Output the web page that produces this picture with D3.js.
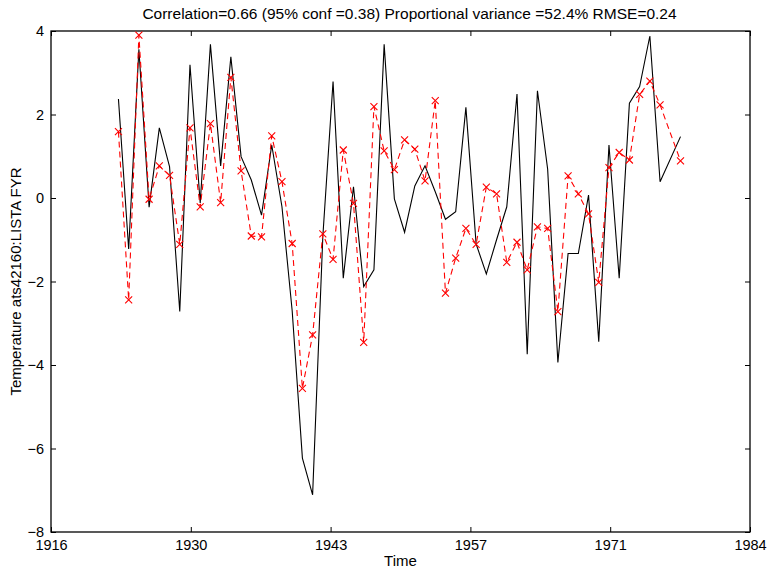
<!DOCTYPE html>
<html><head><meta charset="utf-8">
<script src="https://cdn.jsdelivr.net/npm/d3@7/dist/d3.min.js"></script>
<style>body{margin:0;background:#fff}svg{display:block}text{font-family:"Liberation Sans",Arial,sans-serif}</style>
</head><body><svg id="c" width="767" height="569"></svg>
<script>
const years = [1922,1923,1924,1925,1926,1927,1928,1929,1930,1931,1932,1933,1934,1935,1936,1937,1938,1939,1940,1941,1942,1943,1944,1945,1946,1947,1948,1949,1950,1951,1952,1953,1954,1955,1956,1957,1958,1959,1960,1961,1962,1963,1964,1965,1966,1967,1968,1969,1970,1971,1972,1973,1974,1975,1977];
const observed = [2.37,-1.22,3.56,-0.22,1.68,0.75,-2.72,3.19,-0.12,3.68,0.77,3.38,0.99,0.43,-0.41,1.27,-0.21,-2.7,-6.23,-7.11,-0.92,2.79,-1.92,0.27,-2.12,-1.72,3.68,-0.02,-0.82,0.29,0.77,0.15,-0.51,-0.33,2.17,-1.1,-1.82,-1.0,-0.21,2.49,-3.74,2.57,0.69,-3.94,-1.33,-1.33,0.07,-3.44,1.27,-1.92,2.27,2.67,3.88,0.39,1.47];
const reconstructed = [1.59,-2.44,3.90,-0.03,0.77,0.54,-1.11,1.68,-0.21,1.78,-0.11,2.89,0.65,-0.91,-0.93,1.49,0.39,-1.09,-4.56,-3.28,-0.86,-1.47,1.15,-0.13,-3.46,2.19,1.13,0.68,1.39,1.17,0.41,2.33,-2.28,-1.44,-0.73,-1.11,0.26,0.10,-1.54,-1.06,-1.72,-0.69,-0.73,-2.72,0.53,0.10,-0.38,-2.02,0.73,1.09,0.91,2.48,2.80,2.23,0.89];
const xTickLabels = ["1916","1930","1943","1957","1971","1984"];
const yTicks = [-8,-6,-4,-2,0,2,4];
const titleText = "Correlation=0.66 (95% conf =0.38) Proportional variance =52.4% RMSE=0.24";
const yLabelText = "Temperature ats42160:LISTA FYR";
const xLabelText = "Time";

const svg = d3.select("#c");
const L=51, R=750, T=31, B=532;
const xDom=[1915.9,1984.3];
const x = d3.scaleLinear().domain(xDom).range([L,R]);
const y = d3.scaleLinear().domain([-8,4]).range([B,T]);
const xTickVals = xTickLabels.map((_,i)=>xDom[0]+i*(xDom[1]-xDom[0])/(xTickLabels.length-1));
const fmtX = (v)=>xTickLabels[xTickVals.indexOf(v)];
const fmtY = (v)=> v<0 ? "\u2212"+Math.abs(v) : String(v);

const data = years.map((yr,i)=>({t:yr+0.5,o:observed[i],r:reconstructed[i]}));

const g = svg.append("g");
const ax = (sel)=>{sel.selectAll("path").remove();sel.selectAll("line").attr("stroke","#000");sel.selectAll("text").attr("font-size","14.5px").attr("fill","#000");};
g.append("g").attr("transform",`translate(0,${B})`).call(d3.axisBottom(x).tickValues(xTickVals).tickFormat(fmtX).tickSizeInner(-5).tickSizeOuter(0).tickPadding(8)).call(ax);
g.append("g").attr("transform",`translate(0,${T})`).call(d3.axisTop(x).tickValues(xTickVals).tickFormat("").tickSizeInner(-5).tickSizeOuter(0)).call(ax);
g.append("g").attr("transform",`translate(${L},0)`).call(d3.axisLeft(y).tickValues(yTicks).tickFormat(fmtY).tickSizeInner(-5).tickSizeOuter(0).tickPadding(7)).call(ax);
g.append("g").attr("transform",`translate(${R},0)`).call(d3.axisRight(y).tickValues(yTicks).tickFormat("").tickSizeInner(-5).tickSizeOuter(0)).call(ax);
g.append("rect").attr("x",L).attr("y",T).attr("width",R-L).attr("height",B-T).attr("fill","none").attr("stroke","#000").attr("stroke-width",1.3);

const line = (k)=>d3.line().x(d=>x(d.t)).y(d=>y(d[k]));
g.append("path").datum(data).attr("d",line("o")).attr("fill","none").attr("stroke","#000").attr("stroke-width",1.1);
g.append("path").datum(data).attr("d",line("r")).attr("fill","none").attr("stroke","#ff0000").attr("stroke-width",1.1).attr("stroke-dasharray","6,4");
const s=3.5;
g.append("g").selectAll("path").data(data).join("path")
 .attr("d",d=>{const cx=x(d.t),cy=y(d.r);return `M${cx-s},${cy-s}L${cx+s},${cy+s}M${cx-s},${cy+s}L${cx+s},${cy-s}`;})
 .attr("stroke","#ff0000").attr("stroke-width",1.1).attr("fill","none");

svg.append("text").attr("x",(L+R)/2+9).attr("y",19).attr("text-anchor","middle").attr("font-size","15.5px").text(titleText);
svg.append("text").attr("x",(L+R)/2).attr("y",566).attr("text-anchor","middle").attr("font-size","15px").text(xLabelText);
svg.append("text").attr("transform",`translate(21,${(T+B)/2}) rotate(-90)`).attr("text-anchor","middle").attr("font-size","15px").text(yLabelText);
</script></body></html>
